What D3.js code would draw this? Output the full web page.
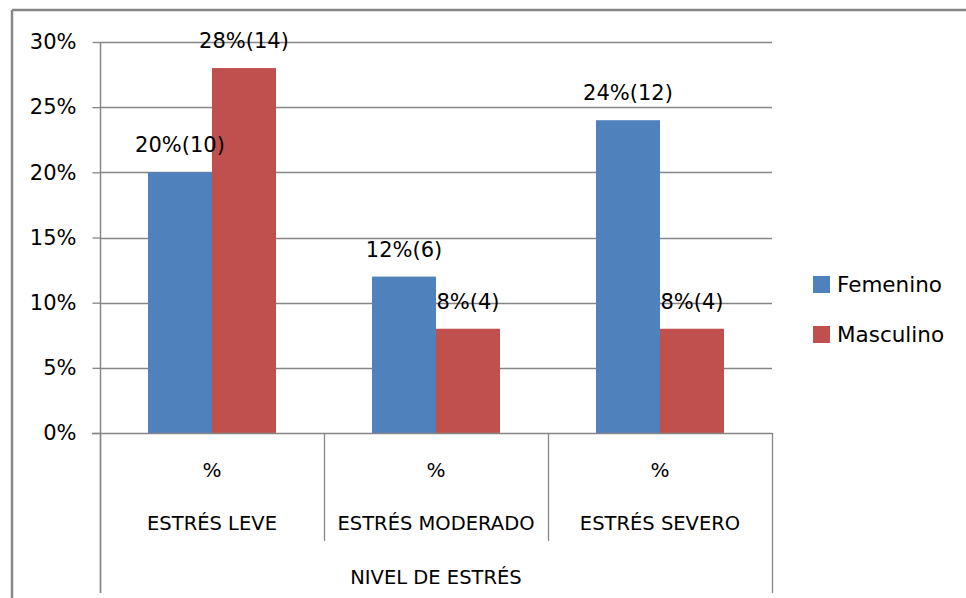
<!DOCTYPE html>
<html><head><meta charset="utf-8">
<script src="https://cdn.jsdelivr.net/npm/d3@7"></script>
<style>
html,body{margin:0;padding:0;background:#fff;}
svg{display:block;font-family:"DejaVu Sans",sans-serif;}
</style></head>
<body>
<svg id="c" width="966" height="598"></svg>
<script>
const categories = ["ESTRÉS LEVE", "ESTRÉS MODERADO", "ESTRÉS SEVERO"];
const subLabel = "%";
const axisTitle = "NIVEL DE ESTRÉS";
const series = ["Femenino", "Masculino"];
const femenino = [0.20, 0.12, 0.24];
const masculino = [0.28, 0.08, 0.08];
const counts = { Femenino: [10, 6, 12], Masculino: [14, 4, 4] };
const yTicks = [0, 0.05, 0.10, 0.15, 0.20, 0.25, 0.30];
const colors = { Femenino: "#4F81BD", Masculino: "#C0504D" };
const values = { Femenino: femenino, Masculino: masculino };

const svg = d3.select("#c");
const gray = "#868686";

// outer frame
svg.append("line").attr("x1", 12).attr("y1", 10).attr("x2", 966).attr("y2", 10)
  .attr("stroke", gray).attr("stroke-width", 2.5);
svg.append("line").attr("x1", 12).attr("y1", 10).attr("x2", 12).attr("y2", 598)
  .attr("stroke", gray).attr("stroke-width", 2.5);

const x = d3.scaleBand().domain(categories).range([100, 772]).padding(0);
const xs = d3.scaleBand().domain(series).range([0, x.bandwidth()]).paddingInner(0).paddingOuter(0.75);
const y = d3.scaleLinear().domain([0, 0.30]).range([433, 42]);

// gridlines
svg.append("g").selectAll("line").data(yTicks.filter(d => d > 0)).join("line")
  .attr("x1", 100).attr("x2", 772)
  .attr("y1", d => Math.round(y(d)) + 0.5).attr("y2", d => Math.round(y(d)) + 0.5)
  .attr("stroke", gray).attr("stroke-width", 1.3);

// y axis
const yAxis = d3.axisLeft(y).tickValues(yTicks).tickSize(8).tickPadding(16)
  .tickFormat(d => Math.round(d * 100) + "%");
const gy = svg.append("g").attr("transform", "translate(100.5,0)").call(yAxis);
gy.select(".domain").remove();
gy.selectAll(".tick line").attr("stroke", gray).attr("stroke-width", 1.3);
gy.selectAll(".tick text").attr("font-size", 21).attr("fill", "#000")
  .attr("font-family", "DejaVu Sans");

// bars
const g = svg.append("g");
const lbl = svg.append("g");
categories.forEach((c, i) => {
  series.forEach(s => {
    const v = values[s][i];
    g.append("rect")
      .attr("x", x(c) + xs(s)).attr("width", xs.bandwidth())
      .attr("y", y(v)).attr("height", y(0) - y(v))
      .attr("fill", colors[s]);
  });
});

// y axis line and baseline
svg.append("line").attr("x1", 100.5).attr("x2", 100.5).attr("y1", 42).attr("y2", 593)
  .attr("stroke", gray).attr("stroke-width", 1.5);
svg.append("line").attr("x1", 92).attr("x2", 772).attr("y1", 433.5).attr("y2", 433.5)
  .attr("stroke", gray).attr("stroke-width", 1.5);

// data labels (on top of bars)
const dl = svg.append("g");
categories.forEach((c, i) => {
  series.forEach(s => {
    const v = values[s][i];
    dl.append("text")
      .attr("x", x(c) + xs(s) + xs.bandwidth() / 2)
      .attr("y", y(v) - 20)
      .attr("text-anchor", "middle").attr("font-size", 21).attr("fill", "#000")
      .text(Math.round(v * 100) + "%(" + counts[s][i] + ")");
  });
});

// category dividers
const bounds = categories.map(c => x(c)).concat([x.range()[1]]);
bounds.forEach((b, i) => {
  const full = (i === 0 || i === bounds.length - 1);
  svg.append("line").attr("x1", b + 0.5).attr("x2", b + 0.5)
    .attr("y1", 433).attr("y2", full ? 593 : 541)
    .attr("stroke", gray).attr("stroke-width", 1.3);
});

// category labels
const gx = svg.append("g");
categories.forEach(c => {
  const cx = x(c) + x.bandwidth() / 2;
  gx.append("text").attr("x", cx).attr("y", 470).attr("dy", "0.35em")
    .attr("text-anchor", "middle").attr("font-size", 20).text(subLabel);
  gx.append("text").attr("x", cx).attr("y", 523).attr("dy", "0.35em")
    .attr("text-anchor", "middle").attr("font-size", 19.5).text(c);
});
gx.append("text").attr("x", (x.range()[0] + x.range()[1]) / 2).attr("y", 577).attr("dy", "0.35em")
  .attr("text-anchor", "middle").attr("font-size", 19.5).text(axisTitle);

// legend
const lg = svg.append("g");
series.forEach((s, i) => {
  const yy = 276 + i * 50;
  lg.append("rect").attr("x", 813).attr("y", yy).attr("width", 17).attr("height", 17)
    .attr("fill", colors[s]);
  lg.append("text").attr("x", 837).attr("y", yy + 8.5).attr("dy", "0.35em")
    .attr("font-size", 21.5).text(s);
});
</script>
</body></html>
